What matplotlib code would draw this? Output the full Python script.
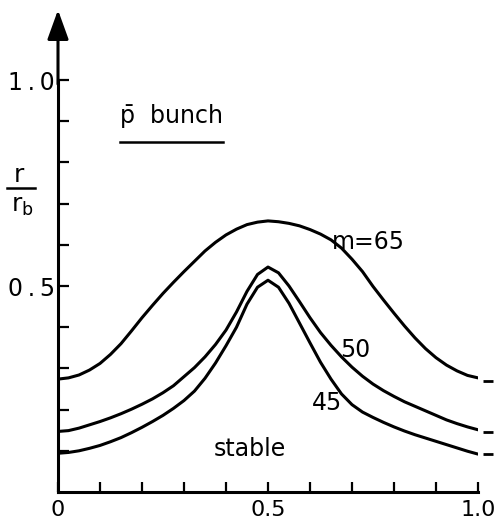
import numpy as np
import matplotlib
matplotlib.use('Agg')
from matplotlib import pyplot as plt

# position along bunch (0..1, step 0.025) and r/r_b
pos = np.round(np.arange(0, 1.0001, 0.025), 3)
m65 = [0.274, 0.277, 0.284, 0.296, 0.312, 0.334, 0.360, 0.391, 0.423, 0.453,
       0.482, 0.509, 0.535, 0.560, 0.585, 0.606, 0.624, 0.638, 0.649, 0.655,
       0.658,
       0.656, 0.652, 0.646, 0.637, 0.626, 0.612, 0.592, 0.565, 0.535, 0.499,
       0.466, 0.434, 0.403, 0.374, 0.348, 0.326, 0.308, 0.294, 0.283, 0.277]
m50 = [0.147, 0.149, 0.155, 0.163, 0.171, 0.180, 0.190, 0.201, 0.213, 0.226,
       0.241, 0.258, 0.280, 0.302, 0.328, 0.358, 0.393, 0.437, 0.487, 0.528,
       0.546,
       0.532, 0.500, 0.462, 0.423, 0.387, 0.356, 0.328, 0.303, 0.281, 0.262,
       0.246, 0.232, 0.219, 0.208, 0.197, 0.186, 0.175, 0.166, 0.158, 0.151]
m45 = [0.094, 0.096, 0.100, 0.106, 0.113, 0.122, 0.132, 0.144, 0.157, 0.171,
       0.186, 0.203, 0.222, 0.245, 0.276, 0.313, 0.355, 0.400, 0.456, 0.497,
       0.514,
       0.497, 0.458, 0.410, 0.362, 0.315, 0.274, 0.238, 0.212, 0.194, 0.181,
       0.169, 0.158, 0.148, 0.139, 0.131, 0.123, 0.115, 0.107, 0.099, 0.092]
edge_vals = [0.269, 0.146, 0.092]   # short marks right of x=1
curve_labels = ['m=65', '50', '45']

plt.rcParams['font.family'] = ['DejaVu Sans']
fs = 17

fig = plt.figure(figsize=(4.97, 5.26), dpi=100)
ax = fig.add_axes([58 / 497, 34 / 526, 420 / 497, 412 / 526])

for vals in (m65, m50, m45):
    ax.plot(pos, vals, color='black', lw=2.2, solid_capstyle='round',
            solid_joinstyle='round')

ax.hlines(edge_vals, 1.012, 1.036, colors='black', lw=2.0, clip_on=False)

ax.set_xlim(0, 1.0)
ax.set_ylim(0, 1.0)
for s in ['top', 'right']:
    ax.spines[s].set_visible(False)
ax.spines['left'].set_linewidth(2.2)
ax.spines['bottom'].set_linewidth(2.2)

# arrow on top of the y axis
ax.annotate('', xy=(0, 1.17), xytext=(0, 0.99), xycoords='data',
            arrowprops=dict(arrowstyle='-|>,head_length=1.8,head_width=0.65',
                            mutation_scale=10, color='black', lw=2.2,
                            shrinkA=0, shrinkB=0), annotation_clip=False)

ax.set_xticks([0, 0.5, 1.0])
ax.set_xticklabels(['0', '0.5', '1.0'])
ax.set_xticks(np.arange(0.1, 1.0, 0.1), minor=True)
ax.set_yticks([0.5, 1.0])
ax.set_yticklabels(['0\u2009.\u20095', '1\u2009.\u20090'])
ax.set_yticks([0.1, 0.2, 0.3, 0.4, 0.6, 0.7, 0.8, 0.9], minor=True)
ax.tick_params(axis='x', which='both', direction='in', length=7, width=1.6,
               labelsize=16, pad=6)
ax.tick_params(axis='y', which='both', direction='in', length=8, width=1.6,
               labelsize=fs, pad=2)

# y label r / r_b
ax.text(-0.093, 0.769, 'r', fontsize=fs + 1, ha='center', va='center', clip_on=False)
ax.plot([-0.121, -0.055], [0.738, 0.738], color='black', lw=1.8, clip_on=False)
ax.text(-0.085, 0.695, r'r$_\mathregular{b}$', fontsize=fs + 1, ha='center',
        va='center', clip_on=False)

# title text
ax.text(0.148, 0.895, 'p\u0304  bunch', fontsize=fs, ha='left', va='baseline')
ax.plot([0.148, 0.393], [0.85, 0.85], color='black', lw=1.8)

ax.text(0.738, 0.607, curve_labels[0], fontsize=fs, ha='center', va='center')
ax.text(0.707, 0.345, curve_labels[1], fontsize=fs, ha='center', va='center')
ax.text(0.640, 0.216, curve_labels[2], fontsize=fs, ha='center', va='center')
ax.text(0.457, 0.104, 'stable', fontsize=fs, ha='center', va='center')

fig.savefig('out.png', dpi=100)
